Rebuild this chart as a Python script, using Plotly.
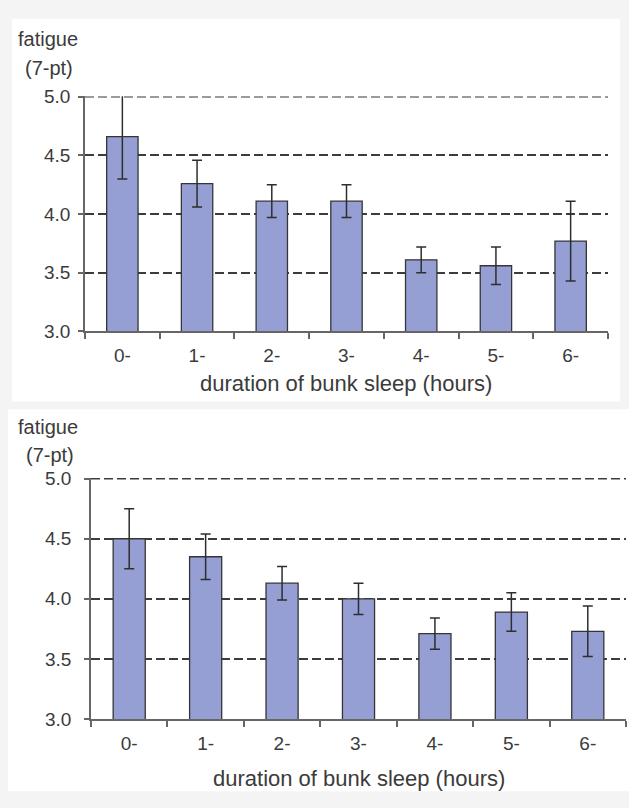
import plotly.graph_objects as go

# Fatigue ratings (7-point scale) by duration of bunk sleep
categories = ["0-", "1-", "2-", "3-", "4-", "5-", "6-"]

upper_means = [4.66, 4.26, 4.11, 4.11, 3.61, 3.56, 3.77]
upper_errors = [0.36, 0.20, 0.14, 0.14, 0.11, 0.16, 0.34]

lower_means = [4.50, 4.35, 4.13, 4.00, 3.71, 3.89, 3.73]
lower_errors = [0.25, 0.19, 0.14, 0.13, 0.13, 0.16, 0.21]

y_ticks = [3.0, 3.5, 4.0, 4.5, 5.0]
y_tick_text = ["3.0", "3.5", "4.0", "4.5", "5.0"]

W, H = 629, 808
FONT = "Liberation Sans, Arial, sans-serif"
TEXT = "#3b3b3b"
BAR_FILL = "#969fd3"
BAR_EDGE = "#353535"
GRID = "#3c3c3c"
AXIS = "#666666"
DASH = "9px,4px"


def px_x(v):
    return v / W


def px_y(v):
    return 1 - v / H


fig = go.Figure()

for name, means, errs, xa, ya in [
    ("upper", upper_means, upper_errors, "x", "y"),
    ("lower", lower_means, lower_errors, "x2", "y2"),
]:
    fig.add_trace(go.Bar(
        x=categories, y=means, width=0.42, base=0,
        marker=dict(color=BAR_FILL, line=dict(color=BAR_EDGE, width=1.3)),
        error_y=dict(type="data", array=errs, visible=True,
                     color="#2e2e2e", thickness=1.5, width=5),
        xaxis=xa, yaxis=ya, showlegend=False, name=name,
    ))

tick_font = dict(family=FONT, size=19, color=TEXT)

x_common = dict(
    type="category", categoryorder="array", categoryarray=categories,
    showline=True, linecolor=AXIS, linewidth=1.6,
    ticks="outside", ticklen=6, tickcolor=AXIS, tickwidth=1.6,
    tickson="boundaries", showgrid=False, zeroline=False,
    tickfont=tick_font, ticklabelstandoff=6,
)
y_common = dict(
    range=[3.0, 5.005], tickvals=y_ticks, ticktext=y_tick_text,
    showline=True, linecolor=AXIS, linewidth=1.6,
    ticks="outside", ticklen=5, tickcolor=AXIS, tickwidth=1.6,
    showgrid=True, gridcolor=GRID, gridwidth=1.5, griddash=DASH,
    zeroline=False, tickfont=tick_font,
)

fig.update_layout(
    width=W, height=H,
    margin=dict(l=0, r=0, t=0, b=0),
    paper_bgcolor="#f4f4f4",
    plot_bgcolor="rgba(0,0,0,0)",
    font=dict(family=FONT, color=TEXT),
    xaxis=dict(domain=[px_x(85), px_x(608)], anchor="y", **x_common),
    yaxis=dict(domain=[px_y(330), px_y(88.5)], anchor="x",
               ticklabelstandoff=4, **y_common),
    xaxis2=dict(domain=[px_x(91), px_x(626)], anchor="y2", **x_common),
    yaxis2=dict(domain=[px_y(728), px_y(480.5)], anchor="x2",
                ticklabelstandoff=9, **y_common),
)

# white panels behind each chart
fig.add_shape(type="rect", xref="paper", yref="paper",
              x0=px_x(12), x1=px_x(620), y0=px_y(402), y1=px_y(9),
              fillcolor="white", line=dict(width=0), layer="below")
fig.add_shape(type="rect", xref="paper", yref="paper",
              x0=px_x(8), x1=px_x(629), y0=px_y(802), y1=px_y(410),
              fillcolor="white", line=dict(width=0), layer="below")

# dashed line at the top of each value axis (lighter on the upper chart)
for xr, yr, col in [("x domain", "y", "#7a7a7a"), ("x2 domain", "y2", GRID)]:
    fig.add_shape(type="line", xref=xr, yref=yr, x0=0, x1=1,
                  y0=y_ticks[-1], y1=y_ticks[-1],
                  line=dict(color=col, width=2, dash=DASH), layer="below")

label_font = dict(family=FONT, size=20, color=TEXT)
title_font = dict(family=FONT, size=22, color=TEXT)
annotations = [
    ("fatigue", 17, 30, "left", label_font),
    ("(7-pt)", 24, 60, "left", label_font),
    ("fatigue", 17, 428, "left", label_font),
    ("(7-pt)", 25, 457, "left", label_font),
    ("duration of bunk sleep (hours)", 346, 383, "center", title_font),
    ("duration of bunk sleep (hours)", 359, 789, "center", title_font),
]
for text, x, y, anchor, font in annotations:
    fig.add_annotation(text=text, xref="paper", yref="paper",
                       x=px_x(x), y=px_y(y), xanchor=anchor, yanchor="middle",
                       showarrow=False, font=font, borderpad=0)

fig.write_html("out.html")
